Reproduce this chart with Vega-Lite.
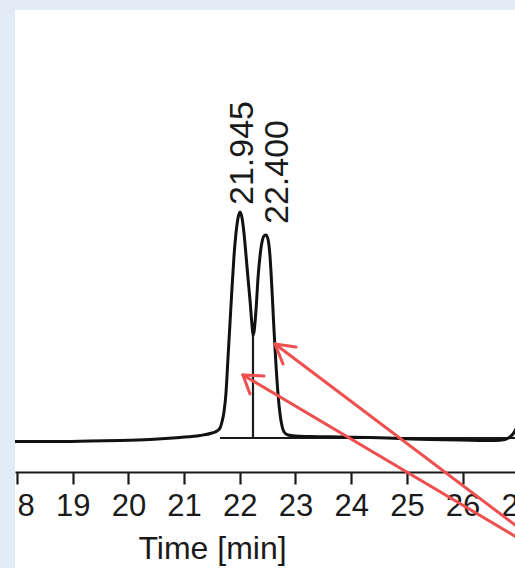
{
  "$schema": "https://vega.github.io/schema/vega-lite/v6.json",
  "autosize": "none",
  "width": 520,
  "height": 558,
  "padding": {"left": 15, "top": 10, "right": 0, "bottom": 0},
  "background": "#e2ecf7",
  "config": {
    "view": {"fill": "white", "stroke": null},
    "font": "Liberation Sans"
  },
  "datasets": {
    "curve": [
      {"t": 17.964, "v": -3.5}, {"t": 18.592, "v": -3.5}, {"t": 19.311, "v": -3}, {"t": 19.849, "v": -2.5},
      {"t": 20.388, "v": -1.5}, {"t": 20.926, "v": 0.5}, {"t": 21.285, "v": 2.5}, {"t": 21.501, "v": 5},
      {"t": 21.591, "v": 7}, {"t": 21.645, "v": 10}, {"t": 21.680, "v": 16}, {"t": 21.716, "v": 26},
      {"t": 21.752, "v": 45}, {"t": 21.788, "v": 80}, {"t": 21.824, "v": 115}, {"t": 21.860, "v": 150},
      {"t": 21.896, "v": 182}, {"t": 21.932, "v": 205}, {"t": 21.968, "v": 220}, {"t": 22.004, "v": 226},
      {"t": 22.040, "v": 220}, {"t": 22.075, "v": 205}, {"t": 22.111, "v": 183}, {"t": 22.147, "v": 160},
      {"t": 22.183, "v": 138}, {"t": 22.219, "v": 113}, {"t": 22.237, "v": 103}, {"t": 22.255, "v": 106},
      {"t": 22.291, "v": 128}, {"t": 22.327, "v": 160}, {"t": 22.363, "v": 182}, {"t": 22.399, "v": 196},
      {"t": 22.434, "v": 202}, {"t": 22.470, "v": 203}, {"t": 22.506, "v": 199}, {"t": 22.542, "v": 182},
      {"t": 22.578, "v": 148}, {"t": 22.614, "v": 108}, {"t": 22.650, "v": 73}, {"t": 22.686, "v": 44},
      {"t": 22.722, "v": 24}, {"t": 22.758, "v": 12}, {"t": 22.794, "v": 6}, {"t": 22.865, "v": 3},
      {"t": 22.991, "v": 2}, {"t": 23.260, "v": 1.5}, {"t": 23.799, "v": 1}, {"t": 24.338, "v": 0.5},
      {"t": 24.876, "v": -0.5}, {"t": 25.415, "v": -1.5}, {"t": 25.953, "v": -2}, {"t": 26.582, "v": -2.5},
      {"t": 26.761, "v": -1.5}, {"t": 26.851, "v": 1}, {"t": 26.905, "v": 4}, {"t": 26.959, "v": 9},
      {"t": 27.031, "v": 18}, {"t": 27.210, "v": 40}
    ],
    "segments": [
      {"t": 21.645, "v": 0, "t2": 27.30, "v2": 0},
      {"t": 22.237, "v": 0, "t2": 22.237, "v2": 103}
    ],
    "arrows": [
      {"t": 22.057, "v": 63, "t2": 27.30, "v2": -110},
      {"t": 22.057, "v": 63, "t2": 22.434, "v2": 62},
      {"t": 22.057, "v": 63, "t2": 22.183, "v2": 44},
      {"t": 22.632, "v": 94, "t2": 27.30, "v2": -102},
      {"t": 22.632, "v": 94, "t2": 23.009, "v2": 91},
      {"t": 22.632, "v": 94, "t2": 22.776, "v2": 74}
    ],
    "labels": [
      {"t": 22.237, "v": 233, "label": "21.945"},
      {"t": 22.865, "v": 214, "label": "22.400"}
    ]
  },
  "encoding": {
    "x": {
      "field": "t",
      "type": "quantitative",
      "scale": {"domain": [17.964, 27.30], "nice": false, "zero": false},
      "axis": {
        "values": [18, 19, 20, 21, 22, 23, 24, 25, 26, 27],
        "offset": -96,
        "grid": false,
        "domainColor": "#1a1a1a",
        "domainWidth": 2.2,
        "tickColor": "#1a1a1a",
        "tickWidth": 2.2,
        "tickSize": 12,
        "labelFontSize": 31,
        "labelColor": "#1a1a1a",
        "labelPadding": 7,
        "labelFlush": false,
        "labelOverlap": false,
        "labelBound": false,
        "labelExpr": "datum.value == 18 ? '8' : datum.label",
        "labelAlign": {"condition": {"test": "datum.value == 18", "value": "left"}, "value": "center"},
        "title": "Time [min]",
        "titleFontSize": 32,
        "titleFontWeight": "normal",
        "titleColor": "#1a1a1a",
        "titleX": 197,
        "titleY": 61,
        "titleAlign": "center",
        "titleBaseline": "top"
      }
    },
    "y": {
      "field": "v",
      "type": "quantitative",
      "scale": {"domain": [-130, 428], "nice": false, "zero": false},
      "axis": null
    }
  },
  "layer": [
    {
      "data": {"name": "segments"},
      "mark": {"type": "rule", "color": "#1a1a1a", "strokeWidth": 2.2},
      "encoding": {"x2": {"field": "t2"}, "y2": {"field": "v2"}}
    },
    {
      "data": {"name": "curve"},
      "mark": {"type": "line", "color": "#111111", "strokeWidth": 3, "interpolate": "monotone"}
    },
    {
      "data": {"name": "labels"},
      "mark": {"type": "text", "angle": 270, "align": "left", "baseline": "alphabetic", "fontSize": 34, "color": "#1a1a1a"},
      "encoding": {"text": {"field": "label"}}
    },
    {
      "data": {"name": "arrows"},
      "mark": {"type": "rule", "color": "#ef4f4f", "strokeWidth": 3, "strokeCap": "round"},
      "encoding": {"x2": {"field": "t2"}, "y2": {"field": "v2"}}
    }
  ]
}
